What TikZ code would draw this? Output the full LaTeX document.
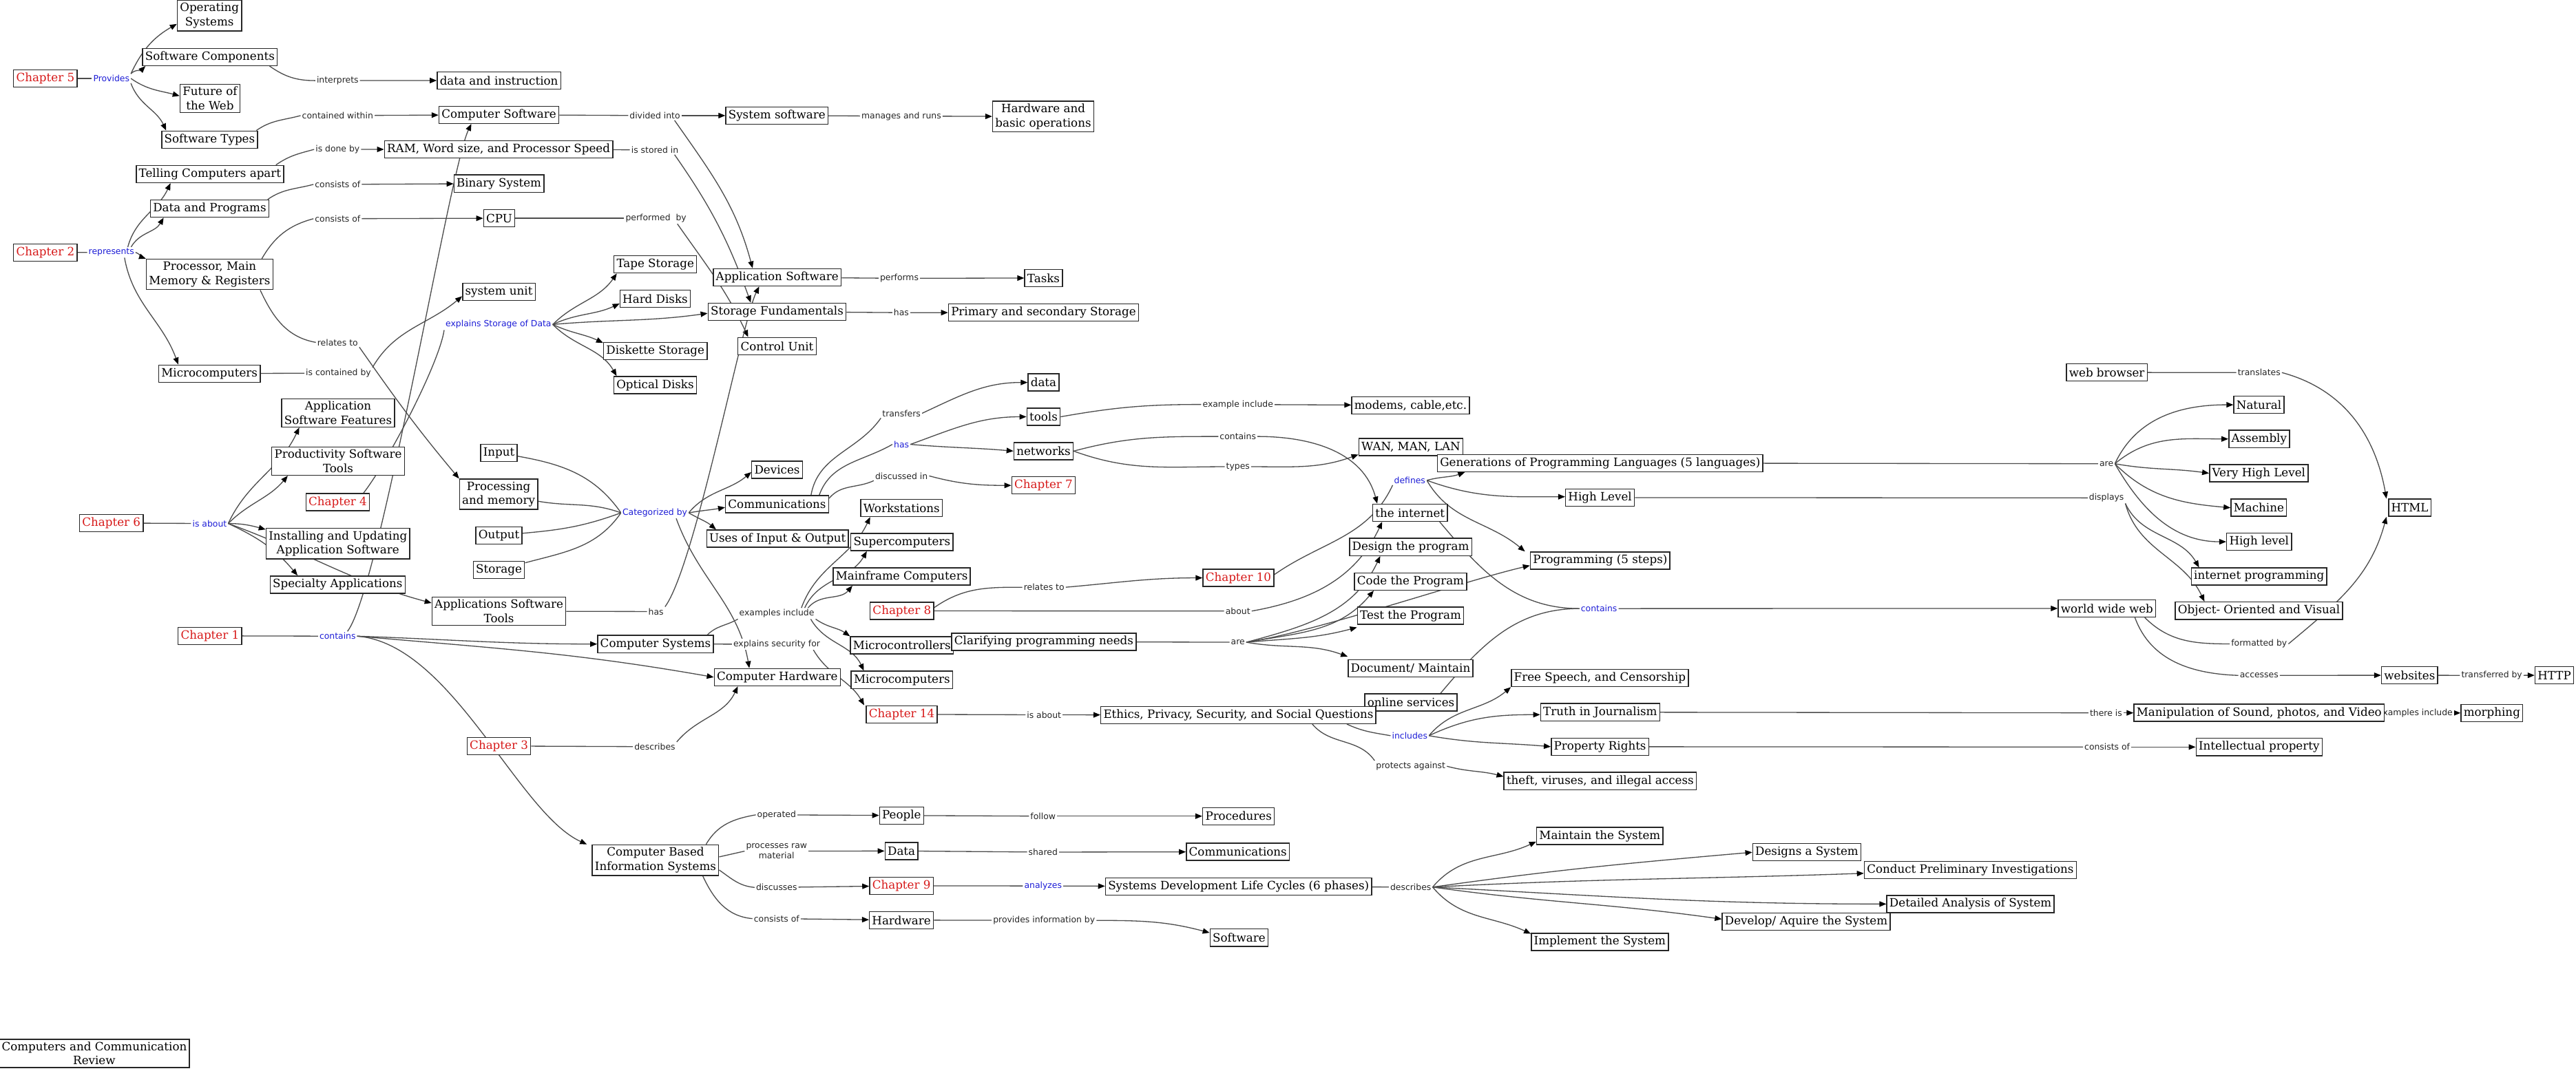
\documentclass[tikz,border=0pt]{standalone}
\usepackage{fontspec}
\setmainfont{DejaVu Serif}
\setsansfont{DejaVu Sans}
\usepackage{tikz}
\usetikzlibrary{arrows.meta,backgrounds}
\definecolor{chapred}{RGB}{215,25,25}
\definecolor{linkblue}{RGB}{30,30,215}
\tikzset{
  concept/.style={draw=black!85, line width=0.6pt, fill=white, align=center,
    font=\fontsize{7}{8.6}\selectfont, inner sep=1.6pt, minimum height=10.5pt},
  chapter/.style={concept, text=chapred},
  lbl/.style={fill=white, inner sep=0.7pt, text=black!85, align=center,
    font=\sffamily\fontsize{5.2}{6}\selectfont},
  blbl/.style={lbl, text=linkblue}
}

\begin{document}
\begin{tikzpicture}[x=1pt, y=1pt, >={Triangle[length=4.2pt,width=3.3pt,color=black]}]
    \useasboundingbox (0,0) rectangle (1568,652);
    \node[concept] (os) at (127.5,642.4) {Operating\\Systems};
    \node[concept] (swComp) at (127.8,617.3) {Software Components};
    \node[chapter] (ch5) at (27.6,604.2) {Chapter 5};
    \node[blbl] (lProvides) at (67.8,604.2) {Provides};
    \node[concept] (future) at (127.8,592.1) {Future of\\the Web};
    \node[lbl] (lInterprets) at (205.5,602.9) {interprets};
    \node[concept] (dataInstr) at (303.7,603) {data and instruction};
    \node[lbl] (lContained) at (205.5,581.6) {contained within};
    \node[concept] (compSw) at (303.7,582.1) {Computer Software};
    \node[lbl] (lDivided) at (398.6,581.6) {divided into};
    \node[concept] (sysSw) at (472.9,581.6) {System software};
    \node[lbl] (lManages) at (548.6,581.3) {manages and runs};
    \node[concept] (hwBasic) at (635,581) {Hardware and\\basic operations};
    \node[concept] (swTypes) at (127.6,567) {Software Types};
    \node[lbl] (lDoneBy) at (205.5,561) {is done by};
    \node[concept] (ram) at (303.5,561.1) {RAM, Word size, and Processor Speed};
    \node[lbl] (lStored) at (398.6,560.7) {is stored in};
    \node[concept] (telling) at (127.8,546) {Telling Computers apart};
    \node[lbl] (lConsistsA) at (205.5,539.7) {consists of};
    \node[concept] (binary) at (303.7,540.2) {Binary System};
    \node[concept] (dataProg) at (127.6,525) {Data and Programs};
    \node[lbl] (lConsistsB) at (205.5,518.8) {consists of};
    \node[concept] (cpu) at (303.9,519.1) {CPU};
    \node[lbl] (lPerformed) at (399.3,519.1) {performed\ \ by};
    \node[chapter] (ch2) at (27.6,498.2) {Chapter 2};
    \node[blbl] (lRepresents) at (67.8,498.3) {represents};
    \node[concept] (tape) at (398.9,491) {Tape Storage};
    \node[concept] (appSw) at (473.1,483.1) {Application Software};
    \node[lbl] (lPerforms) at (547.4,482.5) {performs};
    \node[concept] (tasks) at (635.2,482.7) {Tasks};
    \node[concept] (proc) at (127.6,484.9) {Processor, Main\\Memory \& Registers};
    \node[concept] (sysUnit) at (303.7,474.3) {system unit};
    \node[concept] (hardDisks) at (398.8,470.1) {Hard Disks};
    \node[concept] (storFund) at (473,462.2) {Storage Fundamentals};
    \node[lbl] (lHasA) at (548.6,461.6) {has};
    \node[concept] (primSec) at (635.2,461.7) {Primary and secondary Storage};
    \node[blbl] (lExplains) at (303.4,454.4) {explains Storage of Data};
    \node[lbl] (lRelates) at (205.5,443.5) {relates to};
    \node[concept] (diskette) at (398.9,438.2) {Diskette Storage};
    \node[concept] (ctrlUnit) at (473,441.2) {Control Unit};
    \node[concept] (microL) at (127.5,424.5) {Microcomputers};
    \node[lbl] (lContainedBy) at (206,424.8) {is contained by};
    \node[concept] (optical) at (398.8,417.5) {Optical Disks};
    \node[concept] (dataC) at (635.2,419.1) {data};
    \node[lbl] (lTransfers) at (548.7,400.3) {transfers};
    \node[concept] (tools) at (635.2,398.2) {tools};
    \node[lbl] (lExample) at (753.5,405.7) {example include};
    \node[concept] (modems) at (858.6,405.2) {modems, cable,etc.};
    \node[concept] (webBrowser) at (1282.4,425.2) {web browser};
    \node[lbl] (lTranslates) at (1375.1,425.1) {translates};
    \node[concept] (natural) at (1375,405.5) {Natural};
    \node[concept] (asf) at (205.8,400.6) {Application\\Software Features};
    \node[blbl] (lHasB) at (548.7,381.4) {has};
    \node[concept] (networks) at (635.2,377.3) {networks};
    \node[lbl] (lContainsN) at (753.5,386.2) {contains};
    \node[concept] (wan) at (858.8,379.7) {WAN, MAN, LAN};
    \node[concept] (assembly) at (1375.1,384.7) {Assembly};
    \node[concept] (input) at (303.7,376.2) {Input};
    \node[concept] (prod) at (205.8,371.2) {Productivity Software\\Tools};
    \node[concept] (devices) at (473,366) {Devices};
    \node[concept] (gen) at (974,370) {Generations of Programming Languages (5 languages)};
    \node[lbl] (lAreG) at (1282.2,369.6) {are};
    \node[concept] (vhl) at (1374.9,363.8) {Very High Level};
    \node[lbl] (lTypes) at (753.5,367.8) {types};
    \node[lbl] (lDiscussed) at (548.7,362.2) {discussed in};
    \node[chapter] (ch7) at (635.2,356.4) {Chapter 7};
    \node[blbl] (lDefines) at (858.1,359.5) {defines};
    \node[concept] (highL) at (973.9,349) {High Level};
    \node[lbl] (lDisplays) at (1282.2,348.8) {displays};
    \node[concept] (machine) at (1374.9,342.8) {Machine};
    \node[concept] (html) at (1466.8,342.8) {HTML};
    \node[concept] (procMem) at (303.5,351) {Processing\\and memory};
    \node[chapter] (ch4) at (205.6,346.2) {Chapter 4};
    \node[concept] (comms) at (473,345) {Communications};
    \node[concept] (workst) at (548.8,342.7) {Workstations};
    \node[concept] (internet) at (858.3,339.8) {the internet};
    \node[blbl] (lCategorized) at (398.6,339.7) {Categorized by};
    \node[chapter] (ch6) at (67.8,333.5) {Chapter 6};
    \node[blbl] (lIsAbout) at (127.6,333.2) {is about};
    \node[concept] (output) at (303.7,326) {Output};
    \node[concept] (usesIO) at (473.3,324) {Uses of Input \& Output};
    \node[concept] (superC) at (549,321.9) {Supercomputers};
    \node[concept] (install) at (205.7,321) {Installing and Updating\\Application Software};
    \node[concept] (design) at (858.6,318.9) {Design the program};
    \node[concept] (highLv) at (1375.1,322.1) {High level};
    \node[concept] (progSteps) at (974,310.6) {Programming (5 steps)};
    \node[concept] (storage) at (303.7,305) {Storage};
    \node[concept] (mainframe) at (548.9,300.9) {Mainframe Computers};
    \node[chapter] (ch10) at (753.8,300.1) {Chapter 10};
    \node[concept] (code) at (858.6,297.9) {Code the Program};
    \node[concept] (inetProg) at (1375.1,300.9) {internet programming};
    \node[concept] (specialty) at (205.5,296) {Specialty Applications};
    \node[lbl] (lRelatesB) at (635.5,294.4) {relates to};
    \node[concept] (appTools) at (303.7,279.8) {Applications Software\\Tools};
    \node[lbl] (lHasC) at (399.3,279.6) {has};
    \node[chapter] (ch8) at (549,280) {Chapter 8};
    \node[lbl] (lAbout) at (753.5,279.9) {about};
    \node[blbl] (lContainsW) at (973.3,281.4) {contains};
    \node[concept] (test) at (858.6,277) {Test the Program};
    \node[concept] (www) at (1282.5,281.5) {world wide web};
    \node[concept] (oop) at (1375,280.1) {Object- Oriented and Visual};
    \node[lbl] (lExamplesA) at (472.8,278.4) {examples include};
    \node[chapter] (ch1) at (127.8,264.8) {Chapter 1};
    \node[blbl] (lContainsC) at (205.5,264.6) {contains};
    \node[concept] (compSys) at (399,259.8) {Computer Systems};
    \node[lbl] (lSecurity) at (472.8,259.7) {explains security for};
    \node[concept] (microCtrl) at (549,259) {Microcontrollers};
    \node[concept] (clarify) at (635.4,261.2) {Clarifying programming needs};
    \node[lbl] (lAreP) at (753.5,260.9) {are};
    \node[lbl] (lFormatted) at (1375.1,259.9) {formatted by};
    \node[concept] (doc) at (858.6,245.1) {Document/ Maintain};
    \node[concept] (compHw) at (473.1,239.6) {Computer Hardware};
    \node[concept] (microR) at (549,238) {Microcomputers};
    \node[concept] (freeSpeech) at (973.8,239.1) {Free Speech, and Censorship};
    \node[lbl] (lAccesses) at (1375.1,240.7) {accesses};
    \node[concept] (websites) at (1466.7,240.8) {websites};
    \node[lbl] (lTransferred) at (1516.7,240.7) {transferred by};
    \node[concept] (http) at (1554.8,240.8) {HTTP};
    \node[concept] (online) at (858.8,224.2) {online services};
    \node[chapter] (ch14) at (548.9,217) {Chapter 14};
    \node[lbl] (lIsAboutB) at (635.5,216.7) {is about};
    \node[concept] (ethics) at (753.8,216.6) {Ethics, Privacy, Security, and Social Questions};
    \node[concept] (truth) at (974,218.3) {Truth in Journalism};
    \node[lbl] (lThereIs) at (1281.9,217.9) {there is};
    \node[lbl] (lExamplesB) at (1470.1,217.9) {examples include};
    \node[concept] (manip) at (1375.1,217.9) {Manipulation of Sound, photos, and Video};
    \node[concept] (morphing) at (1516.8,217.8) {morphing};
    \node[blbl] (lIncludes) at (858.1,204) {includes};
    \node[chapter] (ch3) at (303.7,197.7) {Chapter 3};
    \node[lbl] (lDescribes) at (398.6,197.3) {describes};
    \node[concept] (propRights) at (973.9,197.3) {Property Rights};
    \node[lbl] (lConsistsIP) at (1282.6,197.1) {consists of};
    \node[concept] (intellect) at (1375.1,197.1) {Intellectual property};
    \node[lbl] (lProtects) at (858.7,185.4) {protects against};
    \node[concept] (theft) at (974,176.4) {theft, viruses, and illegal access};
    \node[lbl] (lOperated) at (472.7,155.8) {operated};
    \node[concept] (people) at (548.8,155.4) {People};
    \node[lbl] (lFollow) at (634.9,155) {follow};
    \node[concept] (procedures) at (753.9,155) {Procedures};
    \node[concept] (maintain) at (973.8,142.9) {Maintain the System};
    \node[lbl] (lProcesses) at (472.7,133.7) {processes raw\\material};
    \node[concept] (dataD) at (548.7,133.8) {Data};
    \node[lbl] (lShared) at (634.9,133.1) {shared};
    \node[concept] (commsB) at (753.5,133.3) {Communications};
    \node[concept] (designs) at (1099.8,133) {Designs a System};
    \node[concept] (cbis) at (399,128.2) {Computer Based\\Information Systems};
    \node[concept] (conduct) at (1199.3,122.2) {Conduct Preliminary Investigations};
    \node[lbl] (lDiscusses) at (472.7,111.6) {discusses};
    \node[chapter] (ch9) at (548.7,112.6) {Chapter 9};
    \node[blbl] (lAnalyzes) at (634.9,112.5) {analyzes};
    \node[concept] (sdlc) at (753.9,112.2) {Systems Development Life Cycles (6 phases)};
    \node[lbl] (lDescribesB) at (858.7,111.8) {describes};
    \node[concept] (detailed) at (1199.4,101.5) {Detailed Analysis of System};
    \node[lbl] (lConsistsH) at (472.7,92.6) {consists of};
    \node[concept] (hardware) at (548.7,91.7) {Hardware};
    \node[lbl] (lProvidesInfo) at (635.5,91.5) {provides information by};
    \node[concept] (develop) at (1099.4,90.8) {Develop/ Aquire the System};
    \node[concept] (software) at (754.2,81) {Software};
    \node[concept] (implement) at (973.8,78.4) {Implement the System};
    \node[concept] (review) at (57.4,10.5) {Computers and Communication\\Review};

    \begin{pgfonlayer}{background}
    \fill[white] (0,0) rectangle (1568,652);
    \begin{scope}[black!70, line width=0.55pt]
    % chapter 5
    \draw (ch5) -- (lProvides);
    \draw[->] (lProvides.north east) to[out=65,in=-150] ([yshift=-5pt]os.west);
    \draw[->] (lProvides.north east) to[out=45,in=-135] ([xshift=2pt]swComp.south west);
    \draw[->] (lProvides.east) to[out=-35,in=165] ([yshift=1.5pt]future.west);
    \draw[->] (lProvides.south east) to[out=-70,in=115] ([xshift=3pt]swTypes.north west);
    \draw ([xshift=-5pt]swComp.south east) to[out=-35,in=180] (lInterprets.west);
    \draw[->] (lInterprets) -- (dataInstr);
    \draw ([xshift=-1pt]swTypes.north east) to[out=35,in=195] (lContained.west);
    \draw[->] (lContained) -- (compSw);
    \draw (compSw) -- (lDivided);
    \draw[->] (lDivided) -- (sysSw);
    \draw[->] ([xshift=12pt]lDivided.south) to[out=-55,in=105] ([xshift=-15pt]appSw.north);
    \draw (sysSw) -- (lManages);
    \draw[->] (lManages) -- (hwBasic);
    % chapter 2
    \draw ([xshift=-5pt]telling.north east) to[out=35,in=195] (lDoneBy.west);
    \draw[->] (lDoneBy) -- (ram);
    \draw (ram) -- (lStored);
    \draw[->] ([xshift=12pt]lStored.south) to[out=-55,in=110] ([xshift=-16pt]storFund.north);
    \draw ([xshift=-1pt]dataProg.north east) to[out=35,in=195] (lConsistsA.west);
    \draw[->] (lConsistsA) -- (binary);
    \draw ([xshift=-7pt]proc.north east) to[out=60,in=195] (lConsistsB.west);
    \draw[->] (lConsistsB) -- (cpu);
    \draw (cpu) -- (lPerformed);
    \draw[->] ([xshift=13pt]lPerformed.south) to[out=-55,in=115] ([xshift=-17.6pt]ctrlUnit.north);
    \draw (ch2) -- (lRepresents);
    \draw[->] ([xshift=10pt]lRepresents.north) to[out=75,in=-115] ([xshift=-24pt]telling.south);
    \draw[->] ([xshift=12pt]lRepresents.north) to[out=60,in=-120] ([xshift=-28pt]dataProg.south);
    \draw[->] (lRepresents.east) to[out=-20,in=160] (proc.north west);
    \draw[->] ([xshift=8pt]lRepresents.south) to[out=-80,in=110] ([xshift=-19pt]microL.north);
    \draw ([xshift=-8pt]proc.south east) to[out=-65,in=170] (lRelates.west);
    \draw[->] (lRelates.south east) to[out=-55,in=130] (procMem.north west);
    \draw (microL) -- (lContainedBy);
    \draw[->] (lContainedBy.north east) to[out=60,in=-140] ([yshift=-2.7pt]sysUnit.west);
    % chapter 4
    \draw ([xshift=-4pt]ch4.north east) .. controls (236.5,371.4) and (267.3,430.6) .. (lExplains.south west);
    \draw[->] (lExplains.east) to[out=45,in=-125] ([xshift=2pt]tape.south west);
    \draw[->] (lExplains.east) to[out=25,in=-155] ([yshift=-3pt]hardDisks.west);
    \draw[->] (lExplains.east) to[out=5,in=188] ([yshift=-1pt]storFund.west);
    \draw[->] (lExplains.east) to[out=-25,in=155] ([yshift=5pt]diskette.west);
    \draw[->] (lExplains.east) to[out=-45,in=120] ([xshift=2pt]optical.north west);
    \draw (storFund) -- (lHasA);
    \draw[->] (lHasA) -- (primSec);
    \draw (appSw) -- (lPerforms);
    \draw[->] (lPerforms) -- (tasks);
    % chapter 6
    \draw (ch6) -- (lIsAbout);
    \draw[->] (lIsAbout.east) to[out=65,in=-115] ([xshift=11pt]asf.south west);
    \draw[->] (lIsAbout.east) to[out=45,in=-130] ([xshift=10pt]prod.south west);
    \draw[->] (lIsAbout.east) to[out=0,in=165] ([yshift=-1pt]install.north west);
    \draw[->] (lIsAbout.east) to[out=-25,in=130] ([xshift=17pt]specialty.north west);
    \draw[->] (lIsAbout.east) to[out=-20,in=165] ([yshift=5pt]appTools.west);
    % chapter 1
    \draw (ch1) -- (lContainsC);
    \draw[->] (lContainsC.east) to[out=-2,in=180] (compSys.west);
    \draw[->] (lContainsC.east) to[out=-5,in=170] (compHw.west);
    \draw[->] (lContainsC.east) .. controls (275,260) and (315,157) .. ([xshift=-3pt]cbis.north west);
    \draw[->] ([xshift=6pt]lContainsC.north) .. controls (231.7,294) and (273.5,548.8) .. ([xshift=20pt]compSw.south west);
    \draw (appTools) -- (lHasC);
    \draw[->] (lHasC.north east) .. controls (423,307.2) and (451.7,456.7) .. ([xshift=-11pt]appSw.south);
    % categorized by
    \draw (input) to[out=-10,in=125] (lCategorized.west);
    \draw (procMem) to[out=-10,in=160] (lCategorized.west);
    \draw (output) to[out=5,in=-160] (lCategorized.west);
    \draw (storage) to[out=15,in=-125] (lCategorized.west);
    \draw[->] (lCategorized.east) to[out=50,in=-140] ([yshift=-1.5pt]devices.west);
    \draw[->] (lCategorized.east) to[out=10,in=190] ([yshift=-2pt]comms.west);
    \draw[->] (lCategorized.east) to[out=-30,in=140] ([xshift=6pt]usesIO.north west);
    \draw[->] ([xshift=13pt]lCategorized.south) to[out=-70,in=100] ([xshift=-17pt]compHw.north);
    % communications
    \draw ([xshift=-11pt]comms.north east) to[out=80,in=-125] (lTransfers.south west);
    \draw[->] (lTransfers.east) to[out=25,in=180] (dataC.west);
    \draw ([xshift=-6pt]comms.north east) to[out=70,in=-150] (lHasB.west);
    \draw[->] (lHasB.east) to[out=20,in=180] (tools.west);
    \draw[->] (lHasB.east) to[out=-5,in=175] (networks.west);
    \draw ([yshift=-2pt]comms.north east) to[out=50,in=-155] (lDiscussed.south west);
    \draw[->] (lDiscussed.east) to[out=-15,in=180] (ch7.west);
    \draw (tools.east) to[out=10,in=180] (lExample.west);
    \draw[->] (lExample) -- (modems);
    \draw (networks.east) to[out=15,in=180] (lContainsN.west);
    \draw[->] (lContainsN.east) to[out=0,in=105] ([xshift=3pt]internet.north west);
    \draw (networks.east) to[out=-20,in=180] (lTypes.west);
    \draw[->] (lTypes.east) to[out=0,in=-160] ([yshift=-4.5pt]wan.west);
    % chapter 8 and 10
    \draw ([yshift=2pt]ch8.east) to[out=35,in=180] (lRelatesB.west);
    \draw[->] (lRelatesB.east) to[out=5,in=180] (ch10.west);
    \draw (ch8) -- (lAbout);
    \draw[->] (lAbout.east) to[out=10,in=-115] ([xshift=6pt]internet.south west);
    \draw ([yshift=2pt]ch10.east) to[out=35,in=-115] (lDefines.south west);
    \draw[->] (lDefines.east) to[out=15,in=-160] ([xshift=17pt]gen.south west);
    \draw[->] (lDefines.east) to[out=-20,in=180] ([yshift=0.5pt]highL.west);
    \draw[->] (lDefines.east) to[out=-60,in=140] ([xshift=-3pt]progSteps.north west);
    \draw (clarify) -- (lAreP);
    \draw[->] (lAreP.east) to[out=15,in=-115] ([xshift=19pt]design.south west);
    \draw[->] (lAreP.east) to[out=10,in=-130] ([xshift=12pt]code.south west);
    \draw[->] (lAreP.east) to[out=5,in=195] ([yshift=-1.5pt]test.south west);
    \draw[->] (lAreP.east) .. controls (800,267) and (890,298) .. ([yshift=-3pt]progSteps.west);
    \draw[->] (lAreP.east) to[out=-10,in=160] ([yshift=1.5pt]doc.north west);
    \draw ([xshift=18pt]internet.south) to[out=-50,in=180] (lContainsW.west);
    \draw ([xshift=18pt]online.north) to[out=50,in=180] (lContainsW.west);
    \draw[->] (lContainsW) -- (www);
    % languages and web
    \draw (gen) -- (lAreG);
    \draw[->] (lAreG.east) to[out=65,in=180] (natural.west);
    \draw[->] (lAreG.east) to[out=40,in=180] (assembly.west);
    \draw[->] (lAreG.east) to[out=-10,in=172] (vhl.west);
    \draw[->] (lAreG.east) to[out=-45,in=175] (machine.west);
    \draw[->] (lAreG.east) to[out=-60,in=180] (highLv.west);
    \draw (highL) -- (lDisplays);
    \draw[->] (lDisplays.south east) to[out=-65,in=120] ([xshift=5pt]inetProg.north west);
    \draw[->] (lDisplays.south east) to[out=-75,in=115] ([xshift=18pt]oop.north west);
    \draw (webBrowser) -- (lTranslates);
    \draw[->] (lTranslates.east) to[out=-15,in=100] ([xshift=-1pt]html.north west);
    \draw ([xshift=-7pt]www.south east) to[out=-45,in=180] (lFormatted.west);
    \draw[->] (lFormatted.east) to[out=40,in=-105] ([xshift=-1pt]html.south west);
    \draw ([xshift=17pt]www.south) to[out=-70,in=178] (lAccesses.west);
    \draw[->] (lAccesses) -- (websites);
    \draw (websites) -- (lTransferred);
    \draw[->] (lTransferred) -- (http);
    % chapter 14
    \draw (ch14) -- (lIsAboutB);
    \draw[->] (lIsAboutB) -- (ethics);
    \draw ([xshift=-18pt]ethics.south east) to[out=-25,in=170] (lIncludes.west);
    \draw[->] (lIncludes.east) to[out=50,in=-140] (freeSpeech.south west);
    \draw[->] (lIncludes.east) to[out=25,in=180] ([yshift=-1.5pt]truth.west);
    \draw[->] (lIncludes.east) to[out=-10,in=175] (propRights.west);
    \draw ([xshift=45pt]ethics.south) to[out=-50,in=125] (lProtects.north west);
    \draw[->] (lProtects.east) to[out=-15,in=165] ([yshift=2.7pt]theft.west);
    \draw (truth) -- (lThereIs);
    \draw[->] (lThereIs) -- (manip);
    \draw (manip) -- (lExamplesB);
    \draw[->] (lExamplesB) -- (morphing);
    \draw (propRights) -- (lConsistsIP);
    \draw[->] (lConsistsIP) -- (intellect);
    % computer systems
    \draw ([xshift=-4pt]compSys.north east) to[out=45,in=-150] (lExamplesA.south west);
    \draw[->] ([xshift=15pt]lExamplesA.north) to[out=70,in=-115] ([xshift=6pt]workst.south west);
    \draw[->] ([xshift=17pt]lExamplesA.north) to[out=65,in=-120] ([xshift=10pt]superC.south west);
    \draw[->] ([xshift=19pt]lExamplesA.north) to[out=50,in=-130] ([xshift=12pt]mainframe.south west);
    \draw[->] (lExamplesA.south east) to[out=-35,in=145] (microCtrl.north west);
    \draw[->] ([xshift=-3pt]lExamplesA.south east) to[out=-60,in=115] ([xshift=8pt]microR.north west);
    \draw (compSys) -- (lSecurity);
    \draw[->] ([xshift=-5pt]lSecurity.south east) to[out=-60,in=120] ([xshift=-1pt]ch14.north west);
    \draw (ch3) -- (lDescribes);
    \draw[->] (lDescribes.north east) to[out=50,in=-115] ([xshift=-24pt]compHw.south);
    % information systems
    \draw ([xshift=-8pt]cbis.north east) to[out=60,in=-170] (lOperated.west);
    \draw[->] (lOperated) -- (people);
    \draw ([yshift=2pt]cbis.east) -- (lProcesses.west);
    \draw[->] (lProcesses) -- (dataD);
    \draw ([yshift=-6pt]cbis.east) to[out=-35,in=175] (lDiscusses.west);
    \draw[->] (lDiscusses) -- (ch9);
    \draw ([xshift=-10pt]cbis.south east) to[out=-65,in=175] (lConsistsH.west);
    \draw[->] (lConsistsH) -- (hardware);
    \draw (people) -- (lFollow);
    \draw[->] (lFollow) -- (procedures);
    \draw (dataD) -- (lShared);
    \draw[->] (lShared) -- (commsB);
    \draw (ch9) -- (lAnalyzes);
    \draw[->] (lAnalyzes) -- (sdlc);
    \draw (hardware) -- (lProvidesInfo);
    \draw[->] (lProvidesInfo.east) to[out=0,in=165] ([yshift=3pt]software.west);
    \draw (sdlc) -- (lDescribesB);
    \draw[->] (lDescribesB.east) to[out=50,in=-155] ([yshift=-3.4pt]maintain.west);
    \draw[->] (lDescribesB.east) to[out=8,in=185] (designs.west);
    \draw[->] (lDescribesB.east) to[out=3,in=182] ([yshift=-2pt]conduct.west);
    \draw[->] (lDescribesB.east) to[out=-3,in=180] (detailed.west);
    \draw[->] (lDescribesB.east) to[out=-8,in=172] ([yshift=1.5pt]develop.west);
    \draw[->] (lDescribesB.east) to[out=-50,in=155] ([yshift=5pt]implement.west);
    \end{scope}
    \end{pgfonlayer}
\end{tikzpicture}
\end{document}
